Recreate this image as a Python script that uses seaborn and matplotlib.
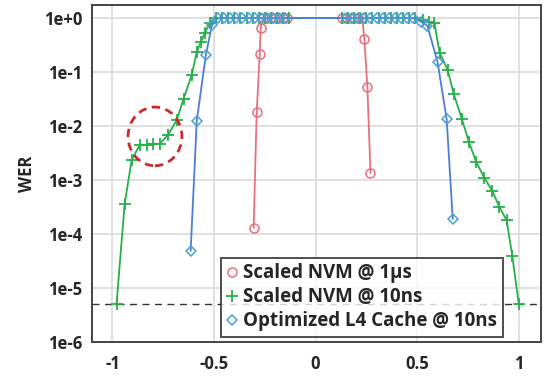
import numpy as np
import pandas as pd
import seaborn as sns
import matplotlib.pyplot as plt
from matplotlib.patches import Ellipse

# Scaled NVM @ 1us (red circles)
red_x = [-0.305, -0.29, -0.275, -0.27, -0.26, -0.24, -0.22, -0.20, -0.18, -0.16, -0.14,
         0.13, 0.15, 0.17, 0.19, 0.21, 0.23, 0.24, 0.255, 0.27]
red_y = [1.3e-4, 1.8e-2, 0.22, 0.65, 1, 1, 1, 1, 1, 1, 1,
         1, 1, 1, 1, 1, 1, 0.41, 0.052, 1.35e-3]

# Scaled NVM @ 10ns (green pluses)
green_x = [-0.98, -0.94, -0.905, -0.865, -0.83, -0.80, -0.767, -0.727, -0.683, -0.65, -0.61,
           -0.585, -0.565, -0.545, -0.52,
           -0.49, -0.46, -0.43, -0.40, -0.37, -0.34, -0.31, -0.28, -0.25, -0.22, -0.19, -0.16, -0.13,
           0.13, 0.16, 0.19, 0.22, 0.25, 0.28, 0.31, 0.34, 0.37, 0.40, 0.43, 0.46, 0.49,
           0.53, 0.56, 0.585, 0.61, 0.65, 0.68, 0.72, 0.755, 0.79, 0.83, 0.87, 0.904, 0.94, 0.968, 1.0]
green_y = [5e-6, 3.6e-4, 2.4e-3, 4.5e-3, 4.5e-3, 4.6e-3, 4.7e-3, 6.8e-3, 1.3e-2, 3.2e-2, 8.8e-2,
           0.235, 0.36, 0.53, 0.81,
           1, 1, 1, 1, 1, 1, 1, 1, 1, 1, 1, 1, 1,
           1, 1, 1, 1, 1, 1, 1, 1, 1, 1, 1, 1, 1,
           0.92, 0.85, 0.8, 0.23, 0.11, 0.039, 1.35e-2, 5e-3, 2.2e-3, 1.1e-3, 6.3e-4, 3.2e-4, 1.8e-4, 4e-5, 5e-6]

# Optimized L4 Cache @ 10ns (blue diamonds)
blue_x = [-0.615, -0.585, -0.54, -0.51,
          -0.48, -0.45, -0.42, -0.39, -0.36, -0.33, -0.30, -0.27, -0.24, -0.21, -0.18, -0.15,
          0.15, 0.18, 0.21, 0.24, 0.27, 0.30, 0.33, 0.36, 0.39, 0.42, 0.45, 0.48,
          0.52, 0.55, 0.60, 0.645, 0.675]
blue_y = [4.9e-5, 1.25e-2, 0.21, 0.75,
          1, 1, 1, 1, 1, 1, 1, 1, 1, 1, 1, 1,
          1, 1, 1, 1, 1, 1, 1, 1, 1, 1, 1, 1,
          0.85, 0.72, 0.155, 1.35e-2, 1.9e-4]

wer_floor = 5e-6
y_ticks = [1e0, 1e-1, 1e-2, 1e-3, 1e-4, 1e-5, 1e-6]
y_labels = ['1e+0', '1e-1', '1e-2', '1e-3', '1e-4', '1e-5', '1e-6']
x_ticks = [-1, -0.5, 0, 0.5, 1]
x_labels = ['-1', '-0.5', '0', '0.5', '1']

sns.set_style('white')
plt.rcParams['font.family'] = ['Open Sans', 'DejaVu Sans']
plt.rcParams['font.weight'] = 'bold'

fig = plt.figure(figsize=(5.55, 3.78), dpi=100)
ax = fig.add_axes([0.166, 0.095, 0.809, 0.892])

ax.axhline(wer_floor, color='#333333', ls=(0, (5, 4)), lw=1.0, zorder=1)

red_c, green_c, blue_c = '#e8707c', '#27b04a', '#4d7fd2'
sns.lineplot(x=red_x, y=red_y, ax=ax, sort=False, estimator=None, color=red_c,
             lw=1.3, marker='o', ms=6.5, markerfacecolor='none', markeredgecolor=red_c,
             markeredgewidth=1.1, label='Scaled NVM @ 1\u00b5s', zorder=3)
sns.lineplot(x=green_x, y=green_y, ax=ax, sort=False, estimator=None, color=green_c,
             lw=1.3, marker='+', ms=8, markeredgecolor=green_c, markeredgewidth=1.3,
             label='Scaled NVM @ 10ns', zorder=4)
sns.lineplot(x=blue_x, y=blue_y, ax=ax, sort=False, estimator=None, color=blue_c,
             lw=1.3, marker='D', ms=5.5, markerfacecolor='none', markeredgecolor='#4d9fd8',
             markeredgewidth=1.1, label='Optimized L4 Cache @ 10ns', zorder=5)

ax.set_yscale('log')
ax.set_xlim(-1.1, 1.11)
ax.set_ylim(1e-6, 1.75)
ax.set_yticks(y_ticks)
ax.set_yticklabels(y_labels)
ax.yaxis.set_minor_locator(plt.NullLocator())
ax.set_xticks(x_ticks)
ax.set_xticklabels(x_labels)
ax.set_xticks([-0.75, -0.25, 0.25, 0.75], minor=True)
ax.tick_params(axis='both', which='major', direction='out', length=5, width=1.3,
               color='#444444', labelsize=12, pad=2)
ax.tick_params(axis='x', which='minor', direction='out', length=3, width=1.0, color='#444444')
ax.tick_params(axis='x', pad=4)
ax.grid(True, which='major', color='#d9d9d9', lw=1.1)
for s in ax.spines.values():
    s.set_color('#444444')
    s.set_linewidth(1.4)
ax.set_xlabel('')
ax.set_ylabel('WER', fontsize=12, fontweight='bold', labelpad=6)

# dashed red circle highlighting the plateau
ring_center = (0.14, 0.61)
ring_size = (0.12, 0.174)
ax.add_patch(Ellipse(ring_center, ring_size[0], ring_size[1], transform=ax.transAxes,
                     fill=False, ec='#cc2a2a', ls=(0, (3, 2)), lw=2.0, zorder=6))

leg = ax.legend(loc='lower right', bbox_to_anchor=(0.915, 0.015), fancybox=False,
                frameon=True, edgecolor='#222222', fontsize=13.5, handlelength=0.6,
                handletextpad=0.3, borderpad=0.3, labelspacing=0.22, borderaxespad=0)
leg.get_frame().set_linewidth(1.4)
for h in leg.legend_handles:
    h.set_linestyle('none')
for t in leg.get_texts():
    t.set_fontweight('bold')

fig.savefig('out.png', dpi=100)
